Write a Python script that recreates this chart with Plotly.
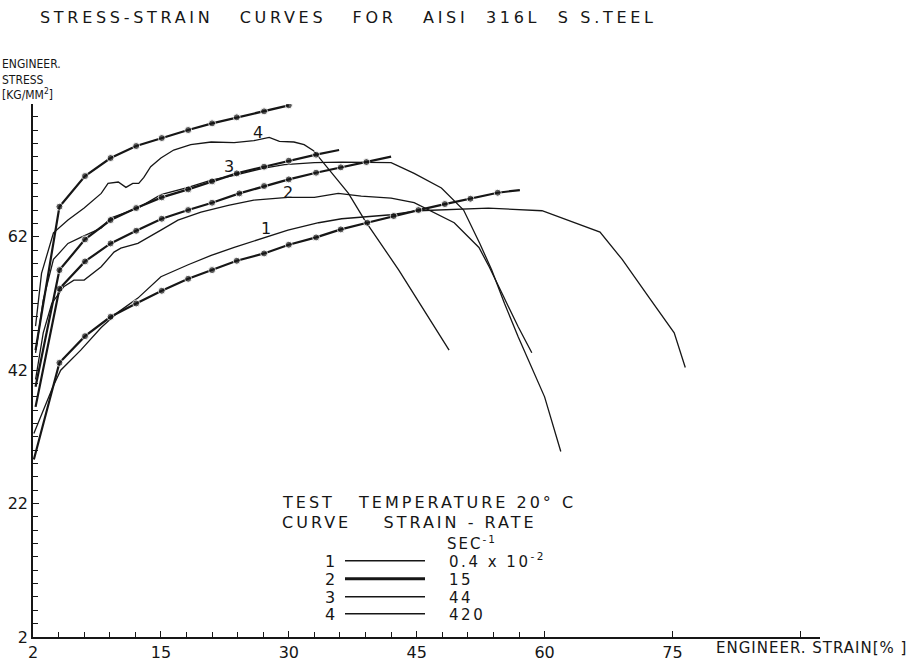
import plotly.graph_objects as go

# ---------------- data ----------------
# marked curves (thick line with dots)
c1m_strain = [0.1, 3.1, 6.1, 9.1, 12.1, 15.1, 18.2, 21.0, 23.9, 27.1, 30.0, 33.2, 36.1, 39.2, 42.3, 45.2, 48.3, 51.3, 54.5, 57.1]
c1m_stress = [28.6, 43.1, 47.1, 50.0, 52.0, 53.9, 55.7, 57.0, 58.4, 59.5, 60.8, 61.9, 63.1, 64.1, 65.1, 66.0, 66.9, 67.7, 68.6, 69.0]

c2m_strain = [0.3, 3.1, 6.1, 9.1, 12.1, 15.1, 18.2, 21.0, 24.2, 27.1, 30.0, 33.2, 36.1, 39.1, 42.0]
c2m_stress = [36.5, 54.2, 58.3, 61.0, 62.9, 64.7, 66.0, 67.1, 68.5, 69.6, 70.6, 71.6, 72.4, 73.2, 74.0]

c3m_strain = [0.3, 3.1, 6.1, 9.1, 12.1, 15.1, 18.2, 21.0, 23.9, 27.1, 30.0, 33.2, 35.9]
c3m_stress = [39.5, 57.0, 61.6, 64.5, 66.3, 67.9, 69.1, 70.3, 71.5, 72.5, 73.4, 74.3, 75.0]

c4m_strain = [0.3, 3.1, 6.1, 9.1, 12.1, 15.1, 18.2, 21.0, 23.9, 27.1, 30.0]
c4m_stress = [45.0, 66.5, 71.1, 73.8, 75.6, 76.8, 78.0, 79.0, 79.9, 80.8, 81.7]

# thin measured curves
c1t_strain = [0.1, 2.3, 3.25, 5.6, 8.0, 10.0, 12.3, 15.0, 18.2, 20.9, 23.6, 27.1, 29.9, 33.5, 36.2, 42.0, 45.2, 53.4, 59.7, 66.5, 69.1, 72.2, 75.2, 76.5]
c1t_stress = [32.5, 39.4, 42.0, 45.0, 48.4, 50.7, 52.8, 56.0, 57.8, 59.2, 60.4, 61.9, 63.0, 64.1, 64.7, 65.3, 65.9, 66.3, 65.9, 62.7, 58.6, 53.0, 47.6, 42.4]

c2t_strain = [0.3, 1.2, 2.2, 3.6, 4.8, 6.0, 8.0, 9.5, 10.3, 12.3, 15.0, 17.0, 19.7, 22.9, 25.9, 29.9, 33.0, 35.8, 38.5, 42.0, 44.7, 47.6, 49.4, 52.3, 53.5, 55.2, 56.9, 58.5]
c2t_stress = [40.6, 47.6, 52.0, 54.5, 55.5, 55.5, 57.5, 59.7, 60.3, 61.0, 63.0, 64.5, 65.7, 66.7, 67.5, 67.9, 67.9, 68.5, 68.1, 67.8, 67.1, 65.3, 64.1, 60.4, 57.5, 53.0, 48.5, 44.6]

c3t_strain = [0.3, 1.2, 2.4, 4.1, 5.6, 8.0, 9.1, 12.3, 15.0, 18.2, 20.9, 23.6, 27.1, 29.5, 33.0, 36.2, 42.0, 44.7, 47.9, 50.5, 52.4, 53.8, 55.3, 56.9, 60.0, 61.9]
c3t_stress = [44.6, 52.5, 58.6, 61.0, 61.9, 63.3, 64.8, 66.3, 68.3, 69.4, 70.5, 71.2, 72.3, 72.8, 73.1, 73.2, 73.1, 71.5, 69.3, 66.0, 61.0, 57.0, 52.0, 47.0, 38.0, 29.8]

c4t_strain = [0.3, 1.0, 2.4, 4.1, 6.0, 8.0, 8.8, 10.0, 10.9, 11.7, 12.4, 13.0, 13.8, 15.0, 16.5, 18.5, 20.9, 23.6, 25.9, 27.7, 28.9, 30.6, 31.8, 32.9, 37.0, 38.9, 42.9, 48.8]
c4t_stress = [48.6, 56.5, 62.6, 64.5, 66.3, 68.5, 70.0, 70.2, 69.4, 70.0, 70.0, 70.9, 72.5, 73.8, 75.0, 75.8, 76.2, 76.1, 76.4, 76.9, 76.3, 76.2, 75.8, 74.9, 68.5, 64.5, 57.0, 45.0]

curve_ids = ["1", "2", "3", "4"]
strain_rates = ["0.4\u00a0x\u00a010<sup>-2</sup>", "15", "44", "420"]
label_strain = [27.3, 29.9, 23.0, 26.4]
label_stress = [63.3, 68.7, 72.5, 77.6]

x_tickvals = [0, 15, 30, 45, 60, 75, 90]
x_ticktext = ["2", "15", "30", "45", "60", "75", ""]
x_minor_vals = [3, 6, 9, 12, 18, 21, 24, 27, 33, 36, 39, 42, 48, 51, 54, 57]

# ---------------- layout geometry (pixels) ----------------
W, H = 920, 662
L, R, T, B = 33, 100, 104, 25
PW, PH = W - L - R, H - T - B
FONT = "DejaVu Sans, sans-serif"
NARROW = "DejaVu Sans Condensed, DejaVu Sans, sans-serif"
INK = "#161616"
NB = "\u00a0"


def px(xpix):
    return (xpix - L) / PW


def py(ypix):
    return (H - B - ypix) / PH


def spaced(text, ls=3):
    return '<span style="letter-spacing:%spx">%s</span>' % (ls, text)


fig = go.Figure()

marked = [(c1m_strain, c1m_stress, False), (c2m_strain, c2m_stress, False),
          (c3m_strain, c3m_stress, False), (c4m_strain, c4m_stress, True)]
thin = [(c1t_strain, c1t_stress), (c2t_strain, c2t_stress),
        (c3t_strain, c3t_stress), (c4t_strain, c4t_stress)]

for xs, ys in thin:
    fig.add_trace(go.Scatter(x=xs, y=ys, mode="lines", showlegend=False,
                             line=dict(color=INK, width=1.3), hoverinfo="skip"))

for xs, ys, endmark in marked:
    sizes = [0] + [7] * (len(xs) - 2) + [7 if endmark else 0]
    fig.add_trace(go.Scatter(x=xs, y=ys, mode="lines+markers", showlegend=False,
                             line=dict(color=INK, width=2.2),
                             marker=dict(color=INK, size=sizes), hoverinfo="skip"))

# key entries (one small legend per row)
row_y = [561, 579, 597, 614]
legend_names = ["legend", "legend2", "legend3", "legend4"]
for i, name in enumerate(strain_rates):
    fig.add_trace(go.Scatter(x=[None], y=[None], mode="lines",
                             name=NB * 4 + spaced(name, 2.5),
                             legend=legend_names[i],
                             line=dict(color=INK, width=2.8 if i == 1 else 1.5)))

annotations = []
for i, cid in enumerate(curve_ids):
    annotations.append(dict(x=label_strain[i], y=label_stress[i], xref="x", yref="y",
                            text=cid, showarrow=False, xanchor="center", yanchor="middle",
                            font=dict(size=16, color=INK)))
    annotations.append(dict(x=px(330), y=py(row_y[i]), xref="paper", yref="paper",
                            text=cid, showarrow=False, xanchor="center", yanchor="middle",
                            font=dict(size=16, color=INK)))

title_txt = ("STRESS-STRAIN" + NB * 3 + "CURVES" + NB * 3 + "FOR" + NB * 3 + "AISI" + NB * 2
             + "316L" + NB * 2 + "S" + NB * 1 + "S.TEEL")
annotations += [
    dict(x=px(38), y=py(17), xref="paper", yref="paper", xanchor="left", yanchor="middle",
         text=spaced(title_txt, 3.7), showarrow=False, font=dict(size=16, color=INK)),
    dict(x=px(0), y=py(55), xref="paper", yref="paper", xanchor="left", yanchor="top",
         align="left", text="ENGINEER.<br>STRESS<br>[KG/MM<sup>2</sup>]",
         showarrow=False, font=dict(size=12, color=INK, family=NARROW)),
    dict(x=px(714), y=py(648), xref="paper", yref="paper", xanchor="left", yanchor="middle",
         text=spaced("ENGINEER." + NB + "STRAIN[%" + NB + "]", 1), showarrow=False,
         font=dict(size=15, color=INK)),
    dict(x=px(280), y=py(502), xref="paper", yref="paper", xanchor="left", yanchor="middle",
         text=spaced("TEST" + NB * 3 + "TEMPERATURE" + NB + "20°" + NB + "C", 3),
         showarrow=False, font=dict(size=16, color=INK)),
    dict(x=px(280), y=py(522), xref="paper", yref="paper", xanchor="left", yanchor="middle",
         text=spaced("CURVE" + NB * 4 + "STRAIN" + NB + "-" + NB + "RATE", 3),
         showarrow=False, font=dict(size=16, color=INK)),
    dict(x=px(445), y=py(543), xref="paper", yref="paper", xanchor="left", yanchor="middle",
         text=spaced("SEC<sup>-1</sup>", 2), showarrow=False, font=dict(size=15, color=INK)),
]

layout_legends = {}
for i, ln in enumerate(legend_names):
    layout_legends[ln] = dict(x=px(340), y=py(row_y[i]), xanchor="left", yanchor="middle",
                              bgcolor="rgba(0,0,0,0)", borderwidth=0, itemwidth=80,
                              font=dict(size=15, color=INK, family=FONT))

fig.update_layout(
    width=W, height=H,
    margin=dict(l=L, r=R, t=T, b=B, pad=0, autoexpand=False),
    paper_bgcolor="white", plot_bgcolor="white",
    font=dict(family=FONT, color=INK, size=16),
    annotations=annotations,
    **layout_legends,
)

fig.update_xaxes(range=[0, 92.3], showgrid=False, zeroline=False, automargin=False,
                 showline=True, linecolor=INK, linewidth=1.6,
                 ticks="inside", ticklen=6, tickwidth=1.3, tickcolor=INK,
                 tickmode="array", tickvals=x_tickvals, ticktext=x_ticktext,
                 tickfont=dict(size=16, color=INK),
                 minor=dict(tickmode="array", tickvals=x_minor_vals, ticks="inside",
                            ticklen=5, tickwidth=1.2, tickcolor=INK, showgrid=False))
fig.update_yaxes(range=[2, 81.9], showgrid=False, zeroline=False, automargin=False,
                 showline=True, linecolor=INK, linewidth=1.6,
                 ticks="inside", ticklen=6, tickwidth=1.3, tickcolor=INK,
                 tick0=2, dtick=20, tickfont=dict(size=16, color=INK),
                 minor=dict(dtick=2, tick0=2, ticks="inside", ticklen=5, tickwidth=1.2,
                            tickcolor=INK, showgrid=False))

fig.write_html("out.html")
